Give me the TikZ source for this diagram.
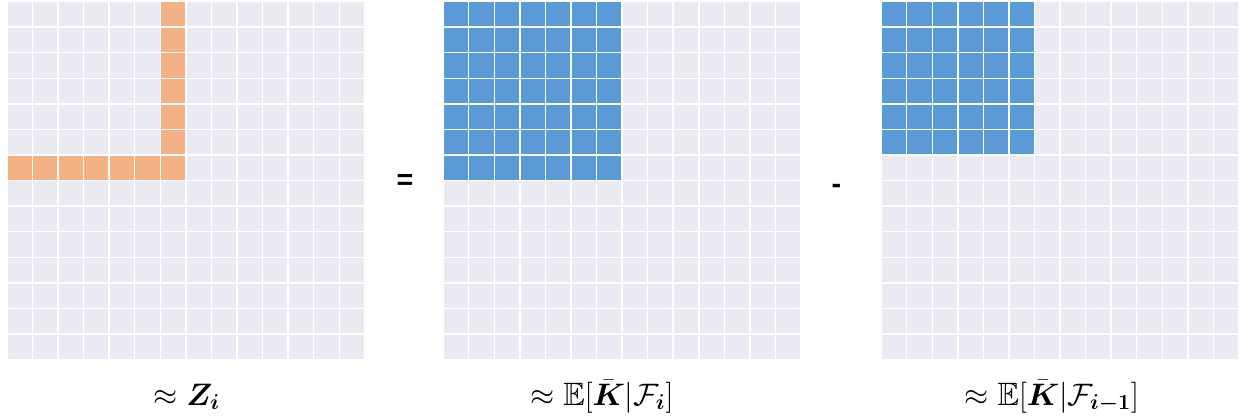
\documentclass[tikz,border=0pt]{standalone}
\usepackage{amsmath,amssymb}
\usepackage{fontspec}
\usepackage{tikz}
\newfontfamily\opfont{Liberation Sans}
\definecolor{gridbg}{RGB}{234,234,242}
\definecolor{zorange}{RGB}{244,177,131}
\definecolor{kblue}{RGB}{91,155,213}

\begin{document}
\begin{tikzpicture}[x=0.5cm,y=0.5cm,
    lbl/.style={font=\fontsize{18}{21}\selectfont,anchor=base,inner sep=0pt},
    opsign/.style={font=\fontsize{16}{19}\selectfont\opfont\bfseries,anchor=base,inner sep=0pt},
    cellgrid/.style={white,line width=0.8pt,step=0.5cm}]
        \useasboundingbox (0,0) rectangle (48.85,16.31);
        % Z_i : the L-shaped increment
        \begin{scope}[shift={(0.27,2.25)}]
            \fill[gridbg] (0,0) rectangle (14,14);
            \foreach \y in {8,...,14} {
                \fill[zorange] (6,\y-1) rectangle (7,\y);
              }
            \foreach \x in {1,...,6} {
                \fill[zorange] (\x-1,7) rectangle (\x,8);
              }
            \draw[cellgrid] (0,0) grid (14,14);
          \end{scope}
        % E[K|F_i]
        \begin{scope}[shift={(17.33,2.25)}]
            \fill[gridbg] (0,0) rectangle (14,14);
            \fill[kblue] (0,7) rectangle (7,14);
            \draw[cellgrid] (0,0) grid (14,14);
          \end{scope}
        % E[K|F_{i-1}]
        \begin{scope}[shift={(34.46,2.25)}]
            \fill[gridbg] (0,0) rectangle (14,14);
            \fill[kblue] (0,8) rectangle (6,14);
            \draw[cellgrid] (0,0) grid (14,14);
          \end{scope}
        \node[opsign] (eqsign) at (15.84,8.9) {=};
        \node[opsign] (minussign) at (32.71,8.75) {-};
        \node[lbl] (lblZ) at (7.31,0.47) {$\approx \boldsymbol{Z_i}$};
        \node[lbl] (lblKcur) at (23.54,0.47) {$\approx \mathbb{E}[\bar{\boldsymbol{K}}|\mathcal{F}_{\boldsymbol{i}}]$};
        \node[lbl] (lblKprev) at (41.14,0.47) {$\approx \mathbb{E}[\bar{\boldsymbol{K}}|\mathcal{F}_{\boldsymbol{i-1}}]$};
      \end{tikzpicture}
\end{document}
